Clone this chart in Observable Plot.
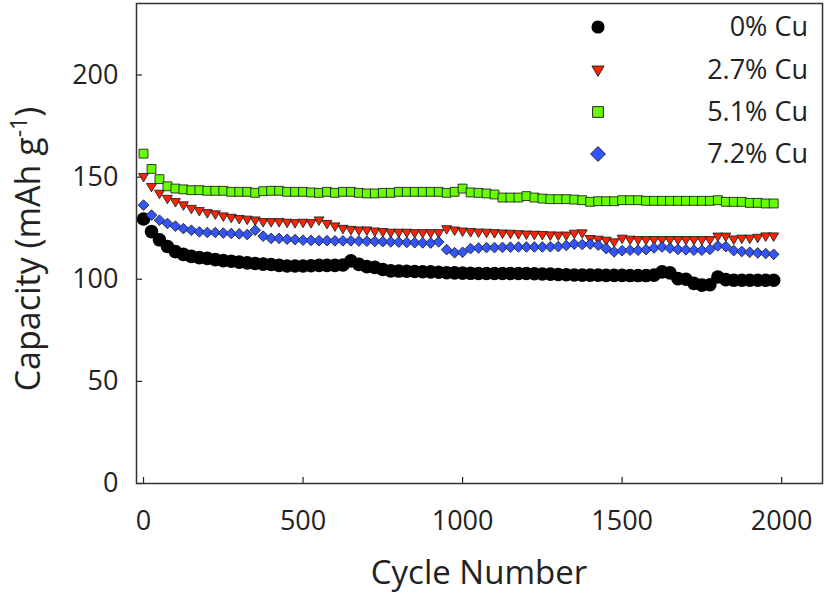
<!DOCTYPE html>
<html><head><meta charset="utf-8">
<script src="https://cdn.jsdelivr.net/npm/d3@7"></script>
<script src="https://cdn.jsdelivr.net/npm/@observablehq/plot@0.6"></script>
<style>body{margin:0;background:#fff;} #chart{width:827px;height:596px;}</style>
</head><body><div id="chart"></div>
<script>
const cycles = [
  0,25,50,75,100,125,150,175,200,225,
  250,275,300,325,350,375,400,425,450,475,
  500,525,550,575,600,625,650,675,700,725,
  750,775,800,825,850,875,900,925,950,975,
  1000,1025,1050,1075,1100,1125,1150,1175,1200,1225,
  1250,1275,1300,1325,1350,1375,1400,1425,1450,1475,
  1500,1525,1550,1575,1600,1625,1650,1675,1700,1725,
  1750,1775,1800,1825,1850,1875,1900,1925,1950,1975];
const cap0 = [
  129.5,123.3,119.3,116.0,113.5,112.2,111.2,110.6,110.2,109.6,
  109.1,108.8,108.4,108.0,107.7,107.4,107.2,106.8,106.5,106.5,
  106.5,106.6,106.8,106.8,106.8,107.0,109.0,107.3,106.2,105.8,
  104.8,104.1,104.0,103.9,103.8,103.7,103.6,103.4,103.2,103.1,
  103.0,102.9,102.8,102.8,102.8,102.8,102.8,102.8,102.8,102.7,
  102.6,102.5,102.3,102.2,102.1,102.0,102.0,102.0,101.9,101.9,
  101.9,101.8,101.8,101.8,102.0,103.6,103.1,100.3,100.0,98.0,
  97.1,97.3,101.1,99.8,99.5,99.5,99.5,99.5,99.5,99.5];
const cap27 = [
  150.2,145.3,142.0,139.5,137.9,136.3,134.6,133.5,132.5,131.9,
  130.9,130.2,129.6,129.3,128.9,128.1,128.1,128.1,127.8,127.6,
  127.8,127.6,128.9,127.2,126.0,124.8,124.3,124.0,124.0,123.5,
  123.2,122.9,122.9,122.9,122.7,122.7,122.7,122.7,124.6,124.0,
  123.5,123.2,123.0,122.9,122.7,122.5,122.4,122.2,122.0,121.9,
  121.8,121.6,121.5,121.5,122.4,122.6,119.8,119.5,119.0,118.2,
  120.0,119.5,119.3,119.3,119.3,119.3,119.3,119.3,119.3,119.3,
  119.3,119.3,121.0,121.0,119.6,120.0,120.0,120.4,121.1,121.1];
const cap51 = [
  161.5,154.0,149.0,145.5,144.4,144.0,143.6,143.6,143.3,143.3,
  143.3,142.8,142.8,142.8,142.3,143.1,143.3,143.3,142.8,142.8,
  142.8,142.5,142.3,142.8,142.3,142.8,142.8,142.3,142.0,142.0,
  142.3,142.3,142.8,142.8,142.8,142.8,142.8,142.8,142.3,142.8,
  144.4,142.5,142.3,142.0,141.5,140.0,140.0,140.0,140.7,140.0,
  139.5,139.2,139.2,139.2,139.0,138.7,137.9,138.2,138.2,138.2,
  138.7,138.7,138.7,138.4,138.4,138.4,138.4,138.4,138.4,138.4,
  138.4,138.4,138.7,137.9,137.9,137.9,137.4,137.4,137.1,137.1];
const cap72 = [
  136.3,131.4,128.9,127.3,126.0,124.8,124.0,123.2,122.9,122.9,
  122.6,122.4,122.2,121.9,124.0,121.1,120.0,120.0,119.6,119.4,
  119.1,119.0,118.9,118.9,118.8,118.8,118.8,118.7,118.6,118.5,
  118.4,118.3,118.2,118.0,117.9,117.8,117.7,118.3,114.5,113.0,
  113.2,115.0,115.3,115.5,115.5,115.6,115.7,115.8,115.8,115.8,
  115.8,115.9,116.0,116.5,117.2,117.0,117.2,116.7,115.0,113.4,
  114.0,114.2,114.2,114.5,115.3,115.8,115.2,114.6,114.4,114.2,
  114.2,114.6,116.3,116.0,114.0,113.6,113.2,112.9,112.6,112.2];
const seriesNames = ["0% Cu", "2.7% Cu", "5.1% Cu", "7.2% Cu"];
const xTicks = [0, 500, 1000, 1500, 2000];
const yTicks = [0, 50, 100, 150, 200];

const FONT = "'Open Sans', sans-serif";
const rows = (vals) => cycles.map((c, i) => ({cycle: c, cap: vals[i]}));

const triangleDown = {
  draw(ctx, size) {
    const s = Math.sqrt(size / Math.PI);
    ctx.moveTo(-s, -0.65 * s);
    ctx.lineTo(s, -0.65 * s);
    ctx.lineTo(0, 1.05 * s);
    ctx.closePath();
  }
};

const styles = [
  {symbol: "circle", fill: "#000000", stroke: "none", r: 6.8, legendSize: 135},
  {symbol: triangleDown, fill: "#ff2200", stroke: "#222", r: 5.0, legendSize: 115},
  {symbol: "square", fill: "#66ff00", stroke: "#222", r: 5.0, legendSize: 115},
  {symbol: "diamond2", fill: "#3355ff", stroke: "#222", r: 4.8, legendSize: 140}
];
const data = [cap0, cap27, cap51, cap72];

const plot = Plot.plot({
  width: 827,
  height: 596,
  marginLeft: 136,
  marginRight: 5,
  marginTop: 3,
  marginBottom: 113,
  x: {domain: [-22, 2128]},
  y: {domain: [0, 235]},
  style: {fontFamily: FONT, fontSize: "27px", color: "#222", background: "#fff"},
  marks: [
    Plot.axisX(xTicks, {tickSize: -6, tickPadding: 33, label: null, fontSize: 27, strokeWidth: 1.2, tickFormat: d => String(d)}),
    Plot.axisY(yTicks, {tickSize: -6, tickPadding: 24, label: null, fontSize: 27, strokeWidth: 1.2, tickFormat: d => String(d)}),
    ...data.map((vals, k) => Plot.dot(rows(vals), {
      x: "cycle", y: "cap",
      r: styles[k].r,
      symbol: styles[k].symbol,
      fill: styles[k].fill,
      stroke: styles[k].stroke,
      strokeWidth: 0.9
    })),
    Plot.frame({stroke: "#333", strokeWidth: 1.5})
  ]
});
document.getElementById("chart").appendChild(plot);

const svg = d3.select(plot);
svg.append("text")
  .attr("x", 479).attr("y", 584)
  .attr("text-anchor", "middle")
  .attr("font-family", FONT).attr("font-size", 33).attr("fill", "#222")
  .text("Cycle Number");
const yl = svg.append("text")
  .attr("transform", "translate(40,249) rotate(-90)")
  .attr("text-anchor", "middle")
  .attr("font-family", FONT).attr("font-size", 34).attr("fill", "#222");
yl.append("tspan").text("Capacity (mAh g");
yl.append("tspan").attr("dy", -13).attr("font-size", 23).text("-1");
yl.append("tspan").attr("dy", 13).text(")");

const legendY = [27, 70, 112, 154];
const legend = svg.append("g");
seriesNames.forEach((name, k) => {
  const st = styles[k];
  const type = typeof st.symbol === "string"
    ? {circle: d3.symbolCircle, square: d3.symbolSquare, diamond2: d3.symbolDiamond2}[st.symbol]
    : st.symbol;
  legend.append("path")
    .attr("transform", `translate(598,${legendY[k]})`)
    .attr("d", d3.symbol().type(type).size(st.legendSize)())
    .attr("fill", st.fill)
    .attr("stroke", st.stroke === "none" ? null : st.stroke)
    .attr("stroke-width", 1);
  legend.append("text")
    .attr("x", 808).attr("y", legendY[k] + 9)
    .attr("text-anchor", "end")
    .attr("font-family", FONT).attr("font-size", 27).attr("fill", "#222")
    .text(name);
});
</script>
</body></html>
